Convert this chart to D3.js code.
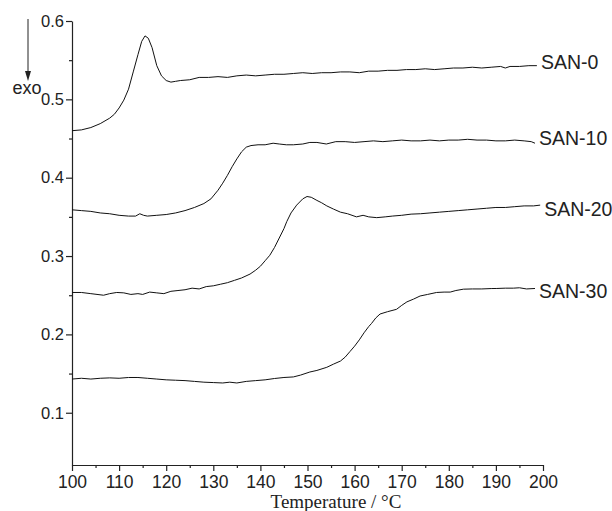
<html>
<head>
<style>
body { margin: 0; background: #fff; }
.axis path, .axis line { stroke: #222; stroke-width: 1.2; }
.axis text { font-family: "Liberation Sans", Arial, sans-serif; fill: #222; }
.curve { fill: none; stroke: #111; stroke-width: 1; }
.seriesLabel { font-family: "Liberation Sans", Arial, sans-serif; font-size: 19.5px; fill: #222; }
</style>
</head>
<body>
<div id="vis"></div>
<script src="https://cdn.jsdelivr.net/npm/d3@7"></script>
<script>
// data: [temperature, heat flow]
var san0 = [[100,0.460],[102,0.461],[104,0.464],[106,0.469],[108,0.476],[109,0.481],[110,0.489],[111,0.499],
	[112,0.513],[113,0.535],[114,0.557],[114.8,0.574],[115.5,0.581],[116.2,0.578],[117,0.566],[118,0.543],
	[119,0.530],[120,0.524],[121,0.522],[122,0.523],[123,0.524],[125,0.525],[127,0.528],[129,0.528],
	[131,0.529],[133,0.528],[135,0.530],[137,0.531],[139,0.530],[141,0.531],[143,0.532],[145,0.532],
	[147,0.533],[149,0.534],[151,0.533],[153,0.534],[155,0.534],[157,0.535],[159,0.535],[161,0.534],
	[163,0.536],[165,0.536],[167,0.537],[169,0.537],[171,0.538],[173,0.538],[175,0.539],[177,0.538],
	[179,0.539],[181,0.540],[183,0.540],[185,0.541],[187,0.540],[189,0.541],[191,0.542],[192,0.540],
	[193,0.542],[195,0.542],[197,0.543],[198.7,0.543]];

var san10 = [[100,0.359],[102,0.358],[104,0.357],[106,0.355],[108,0.354],[110,0.352],[112,0.351],[113.5,0.351],
	[114.4,0.354],[115.2,0.352],[116,0.351],[118,0.352],[120,0.353],[122,0.355],[124,0.358],[126,0.362],
	[128,0.367],[129.5,0.373],[131,0.384],[132,0.393],[133,0.403],[134,0.414],[135,0.424],[136,0.433],
	[137,0.439],[138,0.441],[139.5,0.442],[141,0.442],[142.7,0.444],[144,0.443],[145.5,0.442],[147,0.442],
	[149,0.443],[150.5,0.445],[152,0.445],[154,0.443],[156,0.446],[158,0.446],[160,0.445],[162,0.446],
	[164,0.447],[166,0.446],[168,0.447],[170,0.448],[172,0.447],[174,0.447],[176,0.448],[178,0.447],
	[180,0.448],[182,0.448],[184,0.449],[186,0.448],[188,0.448],[190,0.447],[192,0.447],[194,0.448],
	[196,0.447],[197.5,0.446],[198.3,0.444]];

var san20 = [[100,0.2535],[102,0.2535],[104,0.252],[106.7,0.250],[108,0.252],[109.5,0.2535],[111,0.253],
	[112.5,0.251],[114,0.252],[115,0.251],[116.5,0.254],[118,0.253],[119.5,0.252],[121,0.255],[122.5,0.256],
	[124,0.257],[125.5,0.259],[127,0.258],[128.5,0.261],[130,0.262],[131.5,0.264],[133,0.266],[134.5,0.269],
	[136,0.272],[137.8,0.277],[139,0.282],[140,0.287],[141,0.294],[142,0.301],[143,0.311],[144,0.323],
	[145,0.335],[145.6,0.344],[146.5,0.355],[147.7,0.365],[149,0.373],[149.9,0.376],[150.8,0.375],
	[152,0.371],[153,0.368],[154.1,0.364],[155.5,0.360],[157,0.356],[158.5,0.354],[160.4,0.350],
	[161.8,0.352],[163,0.350],[164.7,0.349],[166.5,0.350],[168,0.351],[170,0.352],[172,0.3535],
	[174,0.354],[176,0.355],[178,0.356],[180,0.357],[182,0.358],[184,0.359],[186,0.360],[188,0.361],
	[190,0.362],[192,0.362],[194,0.363],[196,0.364],[198,0.364],[199.4,0.365]];

var san30 = [[100,0.143],[102,0.144],[104,0.143],[106,0.144],[108,0.1445],[110,0.144],[112,0.145],[114,0.145],
	[116,0.144],[118,0.143],[120,0.142],[122,0.1415],[124,0.141],[126,0.140],[128,0.139],[130,0.1385],
	[132,0.138],[133.5,0.139],[135,0.138],[137,0.140],[139,0.141],[141,0.142],[143,0.1437],[145,0.145],
	[147,0.1457],[148.5,0.148],[150.5,0.152],[152,0.154],[154.1,0.158],[155.5,0.162],[157,0.166],
	[158,0.171],[159,0.178],[160,0.185],[161,0.193],[162,0.202],[163,0.210],[163.6,0.214],[164.5,0.221],
	[165.4,0.226],[167,0.229],[168.9,0.232],[170,0.237],[171.1,0.2415],[172.5,0.245],[173.9,0.249],
	[175.5,0.251],[177.4,0.2535],[179,0.254],[180.3,0.254],[181.5,0.256],[183.1,0.2577],[185,0.258],
	[187,0.258],[189,0.2585],[190.2,0.2586],[192,0.259],[193.7,0.259],[195,0.2595],[196.5,0.258],[198.3,0.2586]];

var seriesNames = ["SAN-0", "SAN-10", "SAN-20", "SAN-30"];
var seriesData = [san0, san10, san20, san30];

var xTicks = [100, 110, 120, 130, 140, 150, 160, 170, 180, 190, 200];
var yTicks = [0.1, 0.2, 0.3, 0.4, 0.5, 0.6];

var svgWidth = 612, svgHeight = 511;

// set the ranges
var x = d3.scaleLinear().domain([100, 200]).range([72, 543]);
var y = d3.scaleLinear().domain([0.0333, 0.6]).range([465, 21]);

var svg = d3.select("#vis").append("svg")
		.attr("width", svgWidth)
		.attr("height", svgHeight);

// minor ticks first, so the major axes draw on top
svg.append("g")
		.attr("class", "axis")
		.attr("transform", "translate(0," + y.range()[0] + ")")
		.call(d3.axisBottom(x).tickValues(d3.range(105, 200, 10)).tickSize(3).tickFormat(""))
		.select(".domain").remove();

svg.append("g")
		.attr("class", "axis")
		.attr("transform", "translate(" + x.range()[0] + ",0)")
		.call(d3.axisLeft(y).tickValues([0.15, 0.25, 0.35, 0.45, 0.55]).tickSize(3).tickFormat(""))
		.select(".domain").remove();

// x axis
var xAxis = svg.append("g")
		.attr("class", "axis")
		.attr("transform", "translate(0," + y.range()[0] + ")")
		.call(d3.axisBottom(x).tickValues(xTicks).tickSize(6).tickSizeOuter(0).tickPadding(5));
xAxis.selectAll("text").style("font-size", "17.5px");

// y axis
var yAxis = svg.append("g")
		.attr("class", "axis")
		.attr("transform", "translate(" + x.range()[0] + ",0)")
		.call(d3.axisLeft(y).tickValues(yTicks).tickSize(6).tickSizeOuter(0).tickPadding(2)
			.tickFormat(d3.format(".1f")));
yAxis.selectAll("text").style("font-size", "16.5px");

// x axis title (sits a little right of the axis centre in the original)
svg.append("text")
		.attr("x", 336)
		.attr("y", 508)
		.attr("text-anchor", "middle")
		.style("font-family", "'Liberation Serif', 'Times New Roman', serif")
		.style("font-size", "19px")
		.style("fill", "#222")
		.text("Temperature / °C");

// exo arrow
svg.append("line")
		.attr("x1", 28).attr("y1", 19)
		.attr("x2", 28).attr("y2", 74)
		.attr("stroke", "#222")
		.attr("stroke-width", 1);
svg.append("path")
		.attr("d", "M25,71 L28,81 L31,71 Z")
		.attr("fill", "#222");
svg.append("text")
		.attr("x", 27)
		.attr("y", 94)
		.attr("text-anchor", "middle")
		.style("font-family", "'Liberation Sans', Arial, sans-serif")
		.style("font-size", "18px")
		.style("fill", "#222")
		.text("exo");

// the curves
var line = d3.line()
		.x(function(d) { return x(d[0]); })
		.y(function(d) { return y(d[1]); });

svg.selectAll(".curve")
		.data(seriesData)
	.enter().append("path")
		.attr("class", "curve")
		.attr("d", line);

// series labels at the end of each curve, nudged a few px like the original
var labelNudge = [-3, -5, 4, 3];
svg.selectAll(".seriesLabel")
		.data(seriesData)
	.enter().append("text")
		.attr("class", "seriesLabel")
		.attr("x", function(d) { return x(d[d.length - 1][0]) + 4; })
		.attr("y", function(d, i) { return y(d[d.length - 1][1]) + labelNudge[i]; })
		.attr("dy", "0.35em")
		.text(function(d, i) { return seriesNames[i]; });
</script>
</body>
</html>
